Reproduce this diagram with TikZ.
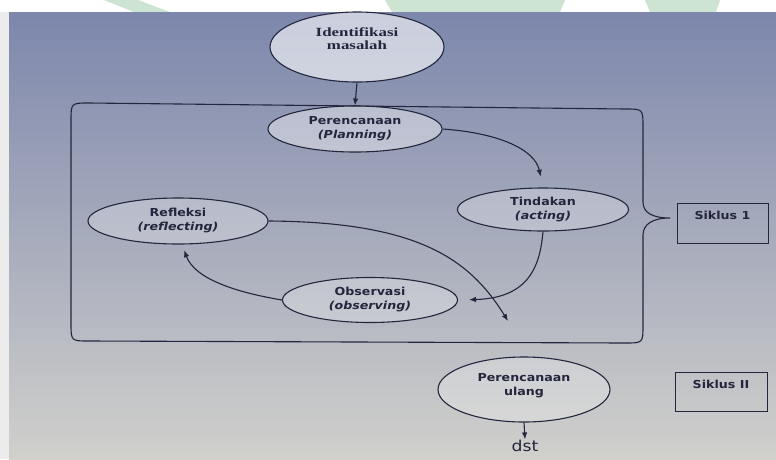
\documentclass[tikz,border=0pt]{standalone}
\usepackage{fontspec}
\usetikzlibrary{shapes.geometric,arrows.meta}
\newfontfamily\lab[FakeStretch=1.15]{DejaVu Sans}
\newfontfamily\serifb[FakeStretch=1.35]{Liberation Serif}
\definecolor{linec}{RGB}{35,38,60}
\definecolor{bgtop}{RGB}{125,135,172}
\definecolor{bgmid}{RGB}{194,196,206}
\definecolor{bgbot}{RGB}{208,208,204}
\definecolor{wmgreen}{RGB}{205,228,210}
\newcommand\tline[2][0pt]{\raisebox{#1}[\height][\depth]{\begin{tabular}{@{}c@{}}#2\end{tabular}}}
\begin{document}
\begin{tikzpicture}[x=1pt,y=-1pt,
  ell/.style={ellipse, draw=linec, line width=1.1pt, inner sep=0pt,
    font=\lab\bfseries\fontsize{11}{14}\selectfont, text=linec},
  sik/.style={rectangle, draw=linec, line width=1pt, inner sep=0pt,
    font=\lab\bfseries\fontsize{11}{14}\selectfont, text=linec},
  arr/.style={draw=linec, line width=1.1pt, -{Latex[length=7pt,width=5.5pt]}},
  frame/.style={draw=linec, line width=1.1pt}]
\useasboundingbox (0,0) rectangle (776,459);
% background (photo)
\fill[white] (0,0) rectangle (776,459);
\fill[wmgreen] (104,0) -- (138,0) -- (170,12) -- (134,12) -- cycle;
\fill[wmgreen] (385,0) -- (565,0) -- (560,12) -- (392,12) -- cycle;
\fill[wmgreen] (645,0) -- (720,0) -- (716,12) -- (650,12) -- cycle;
\fill[gray!15] (0,12) rectangle (9,459);
\shade[top color=bgtop, middle color=bgmid, bottom color=bgbot] (9,12) rectangle (776,459);
% frame with brace
\draw[frame] (71,240) -- (71,121) .. controls (71,103) and (71,103) .. (89,103)
  -- (625,109) .. controls (643,109) and (643,109) .. (643,127)
  -- (643,202) .. controls (643,213) and (653,218) .. (670,218)
  .. controls (653,218) and (643,224) .. (643,235)
  -- (643,325) .. controls (643,343) and (643,343) .. (625,343)
  -- (89,341) .. controls (71,341) and (71,341) .. (71,323) -- cycle;
% nodes
\node[ell, fill=white, fill opacity=0.6, text opacity=1, minimum width=174pt, minimum height=70pt,
  font=\serifb\bfseries\fontsize{12.5}{13}\selectfont] (ident) at (357,47)
  {\tline[7pt]{Identifikasi\\masalah}};
\node[ell, fill=white, fill opacity=0.4, text opacity=1, minimum width=174pt, minimum height=46pt] (plan) at (355,129)
  {\tline{Perencanaan\\\itshape(Planning)}};
\node[ell, fill=white, fill opacity=0.25, text opacity=1, minimum width=171pt, minimum height=43pt] (tind) at (543,209.5)
  {\tline{Tindakan\\\itshape(acting)}};
\node[ell, fill=white, fill opacity=0.25, text opacity=1, minimum width=180pt, minimum height=46pt] (refl) at (178,221)
  {\tline{Refleksi\\\itshape(reflecting)}};
\node[ell, fill=white, fill opacity=0.25, text opacity=1, minimum width=175pt, minimum height=45pt] (obs) at (370,300)
  {\tline{Observasi\\\itshape(observing)}};
\node[ell, fill=white, fill opacity=0.25, text opacity=1, minimum width=172pt, minimum height=65pt] (ulang) at (524,389.5)
  {\tline[4pt]{Perencanaan\\ulang}};
\node[sik, minimum width=91pt, minimum height=40pt] (sik1) at (722.5,223) {\tline[6pt]{Siklus 1}};
\node[sik, minimum width=92pt, minimum height=39pt] (sik2) at (721,391.5) {\tline[6pt]{Siklus II}};
\node[anchor=base, inner sep=0pt, text=linec, font=\lab\fontsize{15}{17}\selectfont] (dst) at (525,451) {dst};
\coordinate (end1) at (508,321);
% connectors
\draw[arr] (ident.south) -- (plan.north);
\draw[arr, shorten >=11pt] (plan.east) .. controls (500,133) and (535,150) .. (tind.north);
\draw[arr, shorten >=11pt] (tind.south) .. controls (540,265) and (530,298) .. (obs.east);
\draw[arr, shorten >=6pt] (obs.west) .. controls (240,293) and (195,280) .. (refl.-80);
\draw[arr] (refl.east) .. controls (420,222) and (470,260) .. (end1);
\draw[arr] (ulang.south) -- (dst.north);
\end{tikzpicture}
\end{document}
